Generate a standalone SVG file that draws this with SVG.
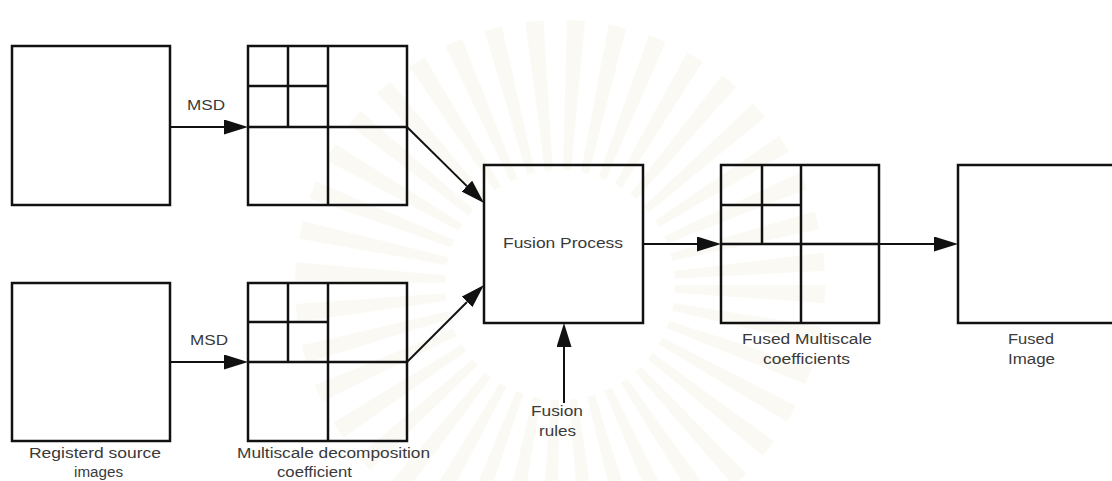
<svg xmlns="http://www.w3.org/2000/svg" width="1112" height="481" viewBox="0 0 1112 481">
<style>
.box{fill:none;stroke:#111;stroke-width:2.5}
.grid{fill:none;stroke:#111;stroke-width:2.5}
.conn{fill:none;stroke:#111;stroke-width:2}
.lbl{font-family:"Liberation Sans",Arial,sans-serif;font-size:14px;fill:#3a3a3a}
</style>
<defs>
<marker id="arr" markerUnits="userSpaceOnUse" viewBox="0 0 24 15" refX="0" refY="7.5" markerWidth="24" markerHeight="15" orient="auto">
<path d="M0,0 L24,7.5 L0,15 Z" fill="#111"/>
</marker>
</defs>
<rect width="1112" height="481" fill="#ffffff"/>
<g id="watermark" opacity="0.3">
<circle cx="560" cy="285" r="190" fill="none" stroke="#f3ecd6" stroke-width="150" stroke-dasharray="13 17"/>
</g>
<g id="src1"><rect class="box" x="12" y="46" width="158" height="159"/></g>
<g id="src2"><rect class="box" x="12" y="283" width="158" height="158"/>
<text class="lbl" x="29" y="458" textLength="132" lengthAdjust="spacingAndGlyphs">Registerd source</text>
<text class="lbl" x="74" y="477" textLength="49" lengthAdjust="spacingAndGlyphs">images</text></g>
<g id="msd1"><rect class="grid" x="248" y="46" width="159" height="159"/>
<path class="grid" d="M328,46 V205 M248,127 H407 M288,46 V127 M248,86 H328"/></g>
<g id="msd2"><rect class="grid" x="248" y="283" width="159" height="158"/>
<path class="grid" d="M328,283 V441 M248,362 H407 M288,283 V362 M248,322 H328"/>
<text class="lbl" x="237" y="458" textLength="193" lengthAdjust="spacingAndGlyphs">Multiscale decomposition</text>
<text class="lbl" x="277" y="477" textLength="75" lengthAdjust="spacingAndGlyphs">coefficient</text></g>
<g id="fusion"><rect class="box" x="484" y="165" width="159" height="158"/>
<text class="lbl" x="503" y="248" textLength="120" lengthAdjust="spacingAndGlyphs">Fusion Process</text></g>
<g id="rules">
<text class="lbl" x="531" y="416" textLength="52" lengthAdjust="spacingAndGlyphs">Fusion</text>
<text class="lbl" x="539" y="436" textLength="37" lengthAdjust="spacingAndGlyphs">rules</text></g>
<g id="fusedcoef"><rect class="grid" x="721" y="165" width="158" height="158"/>
<path class="grid" d="M801,165 V323 M721,244 H879 M762,165 V244 M721,205 H801"/>
<text class="lbl" x="742" y="344" textLength="130" lengthAdjust="spacingAndGlyphs">Fused Multiscale</text>
<text class="lbl" x="763" y="364" textLength="87" lengthAdjust="spacingAndGlyphs">coefficients</text></g>
<g id="fusedimg"><rect class="box" x="958" y="165" width="160" height="158"/>
<text class="lbl" x="1008" y="344" textLength="46" lengthAdjust="spacingAndGlyphs">Fused</text>
<text class="lbl" x="1008" y="364" textLength="47" lengthAdjust="spacingAndGlyphs">Image</text></g>
<g id="connectors">
<line class="conn" x1="170" y1="127" x2="224" y2="127" marker-end="url(#arr)"/>
<text class="lbl" x="187" y="110" textLength="38" lengthAdjust="spacingAndGlyphs">MSD</text>
<line class="conn" x1="170" y1="362" x2="224" y2="362" marker-end="url(#arr)"/>
<text class="lbl" x="190" y="345" textLength="38" lengthAdjust="spacingAndGlyphs">MSD</text>
<line class="conn" x1="407" y1="127" x2="466.9" y2="186.1" marker-end="url(#arr)"/>
<line class="conn" x1="407" y1="362" x2="467" y2="302" marker-end="url(#arr)"/>
<line class="conn" x1="643" y1="244" x2="697" y2="244" marker-end="url(#arr)"/>
<line class="conn" x1="879" y1="244" x2="934" y2="244" marker-end="url(#arr)"/>
<line class="conn" x1="564" y1="403" x2="564" y2="347" marker-end="url(#arr)"/>
</g>
</svg>
